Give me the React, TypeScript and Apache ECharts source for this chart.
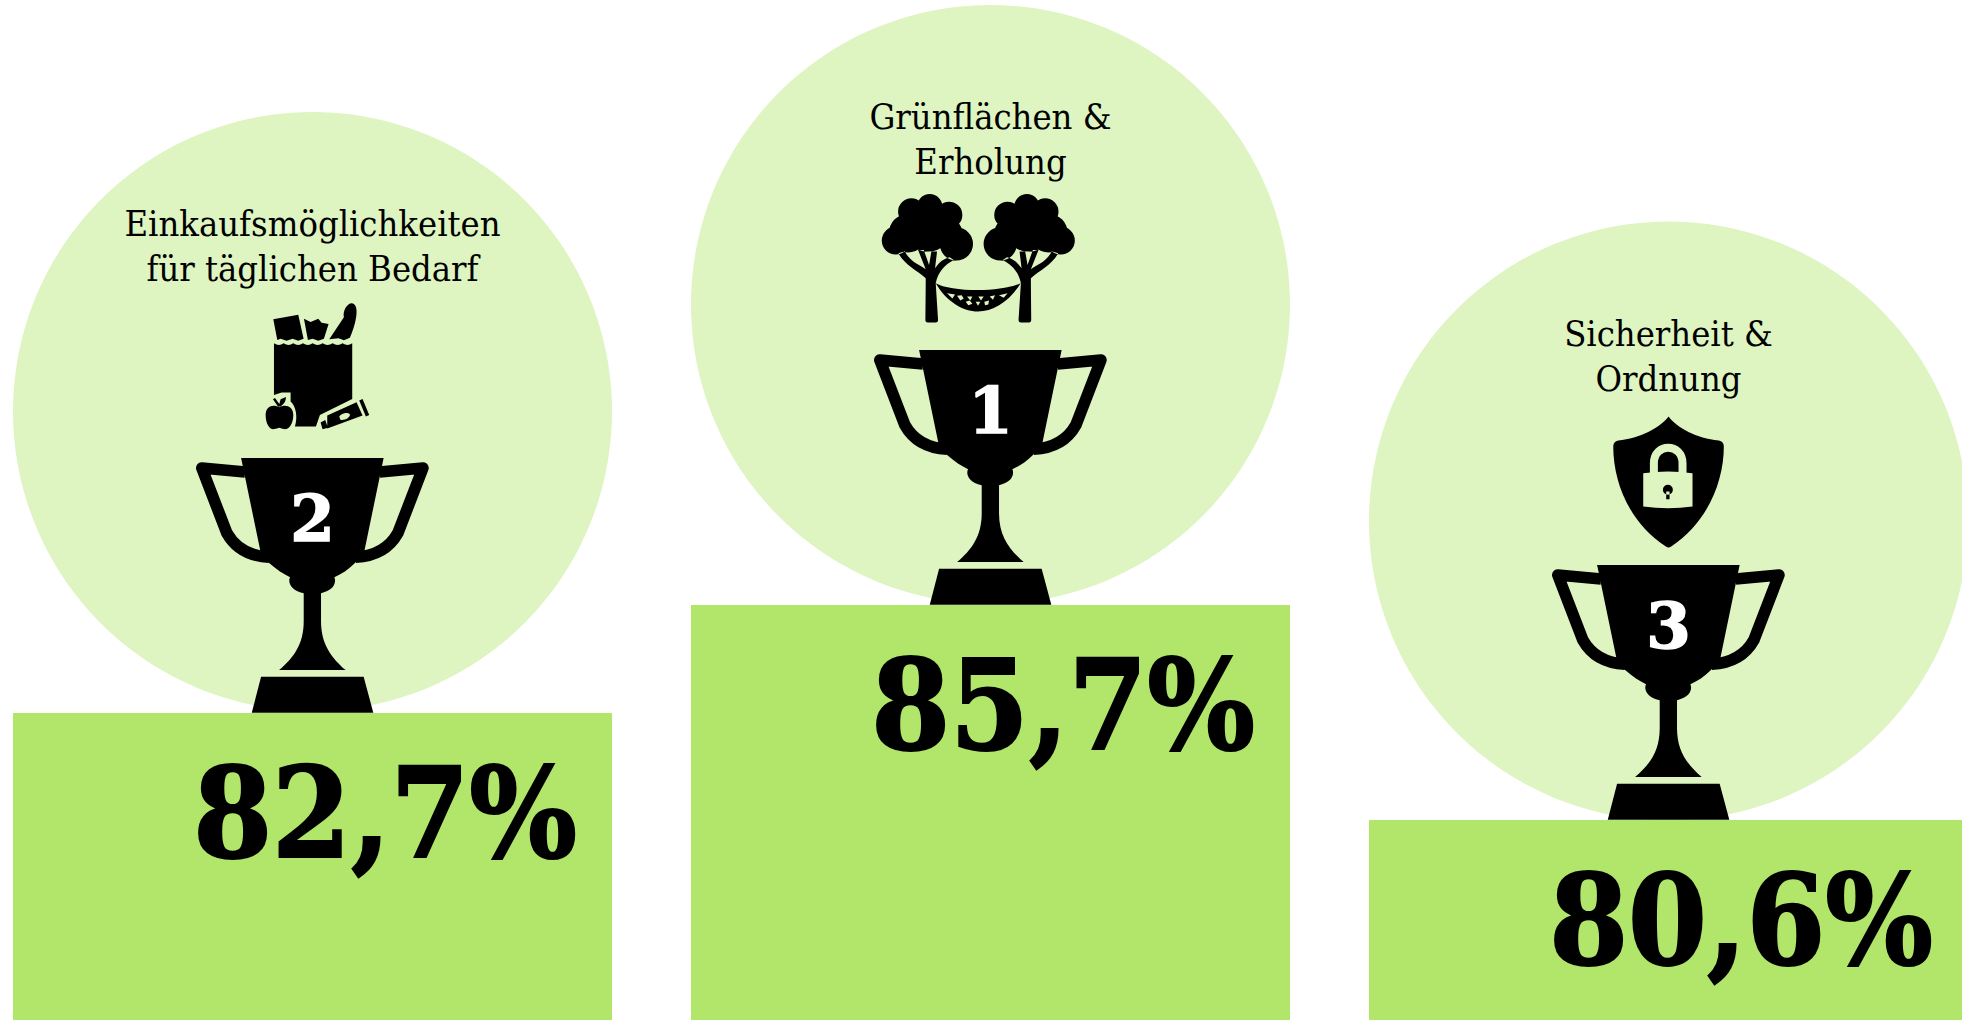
import React, { useEffect, useRef } from "react";
import * as echarts from "echarts";

const categories = ["Einkaufsmöglichkeiten\nfür täglichen Bedarf", "Grünflächen &\nErholung", "Sicherheit &\nOrdnung"];
const percentLabels = ["82,7%", "85,7%", "80,6%"];
const ranks = ["2", "1", "3"];
const podiumHeights = [307, 415, 200];
const circleCentres = [608.5, 715.5, 499];

const CIRCLE = "#def4c1";
const BAR = "#b1e66a";
const SERIF = '"DejaVu Serif Condensed", "DejaVu Serif", serif';
const SERIF_WIDE = '"DejaVu Serif", serif';
const TEXT_NUDGE = [0, 1, 3];

const circ = (cx: number, cy: number, r: number) =>
  `M${cx - r} ${cy}a${r} ${r} 0 1 0 ${2 * r} 0a${r} ${r} 0 1 0 ${-2 * r} 0Z`;

const shapes: Record<string, string> = {
  cup: "M178 30L606 30L548 310L520 345C500 365 480 378 458 388C464 400 460 428 418 436L418 520C418 590 450 630 492 667L292 667C335 630 366 590 366 520L366 436C325 428 318 400 325 388C305 378 285 365 262 345L236 310Z",
  base: "M238 687L546 687L575 795L210 795Z",
  handleL: "M190 72L60 60L135 255C160 300 205 325 262 328",
  handleR: "M594 72L724 60L649 255C624 300 579 325 522 328",
  bag: "M102 130q15 10 29 0q15 10 29 0q15 10 29 0q15 10 29 0q15 10 30 0q15 10 30 0q15 10 30 0q15 10 29 0L337 297L240 345L228 380L165 380C174 350 168 320 152 305L152 278L125 278L102 285Z",
  paper: "M100 58L175 44L191 116L175 122L158 116L140 122L122 116L112 120Z",
  packet: "M192 56L212 66L235 56L245 68L266 72L252 116L235 122L218 116L204 120Z",
  baguette: "M268 118L312 52C308 35 320 12 334 10C350 10 352 30 349 50C345 75 338 95 330 113L312 121L296 115Z",
  apple: "M118 322C135 312 160 318 160 345C160 370 148 388 135 388C125 388 122 384 118 384C114 384 110 388 100 388C88 388 77 370 77 345C77 318 100 312 118 322ZM114 320L99 298L105 294L118 312L122 298L138 291C138 305 130 315 120 320Z",
  tube: "M262 347L350 307L368 347L262 386ZM358 302L368 297L388 345L378 350ZM242 368L256 360L264 384L248 388Z",
  tubeHole: "M298 350C305 340 322 336 330 343C332 352 315 362 302 360Z",
  tree:
    circ(138, 212, 42) + circ(185, 125, 40) + circ(240, 110, 38) + circ(298, 135, 40) + circ(320, 222, 50) + circ(235, 170, 75) + circ(175, 190, 58) + circ(290, 190, 48) +
    "M228 340L258 340L265 450Q265 458 258 458L234 458Q227 458 227 450ZM228 325C200 300 165 285 146 250L165 244C180 275 210 285 228 298L205 240L222 240L238 285L245 245L262 245L256 295C270 275 285 265 300 262L312 270C285 285 265 305 258 340L228 340Z",
  hammock: "M258 340C300 365 450 370 513 340C480 395 430 425 385 425C340 425 290 395 258 340Z",
  hammockHoles:
    "M292 370L316 374L308 386ZM322 378L336 376L342 386L332 392ZM352 380L368 380L362 392ZM386 380L402 380L394 392ZM420 380L436 376L430 390ZM448 376L474 370L462 384ZM348 396L360 392L368 402L356 406ZM378 396L392 396L385 408ZM404 396L418 392L416 404L406 406Z",
  shield: "M386 350C360 385 300 415 235 422Q220 425 220 440C220 550 270 670 378 740Q386 746 394 740C500 670 552 550 552 440Q552 425 537 422C470 415 412 385 386 350Z",
  shackle: "M342 525L342 490C342 428 428 428 428 490L428 525",
  lock: "M310 520Q385 510 458 520L458 620Q385 630 310 620Z",
  keyhole: circ(384, 570, 15) + "M379 575L389 575L389 598L379 598Z",
};
Object.keys(shapes).forEach((k) => echarts.graphic.registerShape("rs_" + k, echarts.graphic.extendPath(shapes[k], {})));

type Piece = { n: string; fill?: string; stroke?: string; w?: number };
const icons: { ox: number; oy: number; pieces: Piece[]; mirror?: { axis: number; pieces: Piece[] } }[] = [
  {
    ox: -72.5, oy: -413,
    pieces: [
      { n: "bag", fill: "#000" }, { n: "paper", fill: "#000" }, { n: "packet", fill: "#000" }, { n: "baguette", fill: "#000" },
      { n: "apple", fill: "#000" }, { n: "tube", fill: "#000" }, { n: "tubeHole", fill: CIRCLE },
    ],
  },
  {
    ox: -140.7, oy: -435,
    pieces: [{ n: "tree", fill: "#000" }, { n: "hammock", fill: "#000" }, { n: "hammockHoles", fill: CIRCLE }],
    mirror: { axis: 385.5, pieces: [{ n: "tree", fill: "#000" }] },
  },
  {
    ox: -128.5, oy: -520,
    pieces: [
      { n: "shield", fill: "#000" }, { n: "shackle", stroke: CIRCLE, w: 24 }, { n: "lock", fill: CIRCLE }, { n: "keyhole", fill: "#000" },
    ],
  },
];

const el = (p: Piece, x: number, y: number, sx = 1 / 3, sy = 1 / 3) => ({
  type: "rs_" + p.n,
  x, y, scaleX: sx, scaleY: sy,
  shape: {},
  style: p.stroke ? { fill: "none", stroke: p.stroke, lineWidth: p.w, lineJoin: "round" } : { fill: p.fill },
});

function renderItem(_params: any, api: any) {
  const i = api.value(0);
  const [cx, top] = api.coord([i, api.value(1)]);
  const tx = cx - 392 / 3;
  const ty = top - 795 / 3;
  const children: any[] = [
    { n: "handleL", stroke: "#000", w: 35 }, { n: "handleR", stroke: "#000", w: 35 }, { n: "cup", fill: "#000" }, { n: "base", fill: "#000" },
  ].map((p) => el(p, tx, ty));
  children.push({
    type: "text", x: cx, y: top - 195,
    style: { text: ranks[i], fill: "#fff", stroke: "#fff", lineWidth: 1.5, font: `bold 64px ${SERIF_WIDE}`, align: "center", verticalAlign: "middle" },
  });
  const ic = icons[i];
  ic.pieces.forEach((p) => children.push(el(p, cx + ic.ox, top + ic.oy)));
  if (ic.mirror) {
    ic.mirror.pieces.forEach((p) => children.push(el(p, cx + ic.ox + (2 * ic.mirror!.axis) / 3, top + ic.oy, -1 / 3, 1 / 3)));
  }
  children.push({
    type: "text", x: cx, y: top - 467 + TEXT_NUDGE[i],
    style: { text: categories[i], fill: "#000", font: `36px ${SERIF}`, lineHeight: 45, align: "center", verticalAlign: "middle" },
  });
  return { type: "group", children };
}

export default function App() {
  const ref = useRef<HTMLDivElement>(null);
  useEffect(() => {
    document.body.style.margin = "0";
    const chart = echarts.init(ref.current!, undefined, { renderer: "svg" });
    chart.setOption({
      animation: false,
      backgroundColor: "#ffffff",
      grid: { left: -26.5, top: 0, width: 2034, bottom: 0, containLabel: false, outerBoundsMode: "none" },
      xAxis: { type: "category", data: categories, show: false },
      yAxis: { type: "value", min: 0, max: 1020, show: false },
      series: [
        {
          type: "scatter", z: 1, clip: false, symbol: "circle", symbolSize: 599, silent: true,
          data: circleCentres, itemStyle: { color: CIRCLE, opacity: 1 },
        },
        {
          type: "bar", z: 2, barWidth: 599, silent: true, data: podiumHeights, itemStyle: { color: BAR },
          label: {
            show: true, position: [564, 37], color: "#000", align: "right", verticalAlign: "top",
            fontFamily: SERIF, fontWeight: "bold", fontSize: 126,
            textBorderColor: "#000", textBorderWidth: 2,
            formatter: (p: any) => percentLabels[p.dataIndex],
          },
        },
        {
          type: "custom", z: 3, silent: true, clip: false, renderItem,
          data: podiumHeights.map((h, i) => [i, h]),
          encode: { x: 0, y: 1 },
        },
      ],
    });
    return () => chart.dispose();
  }, []);
  return <div ref={ref} style={{ width: 1962, height: 1020 }} />;
}
